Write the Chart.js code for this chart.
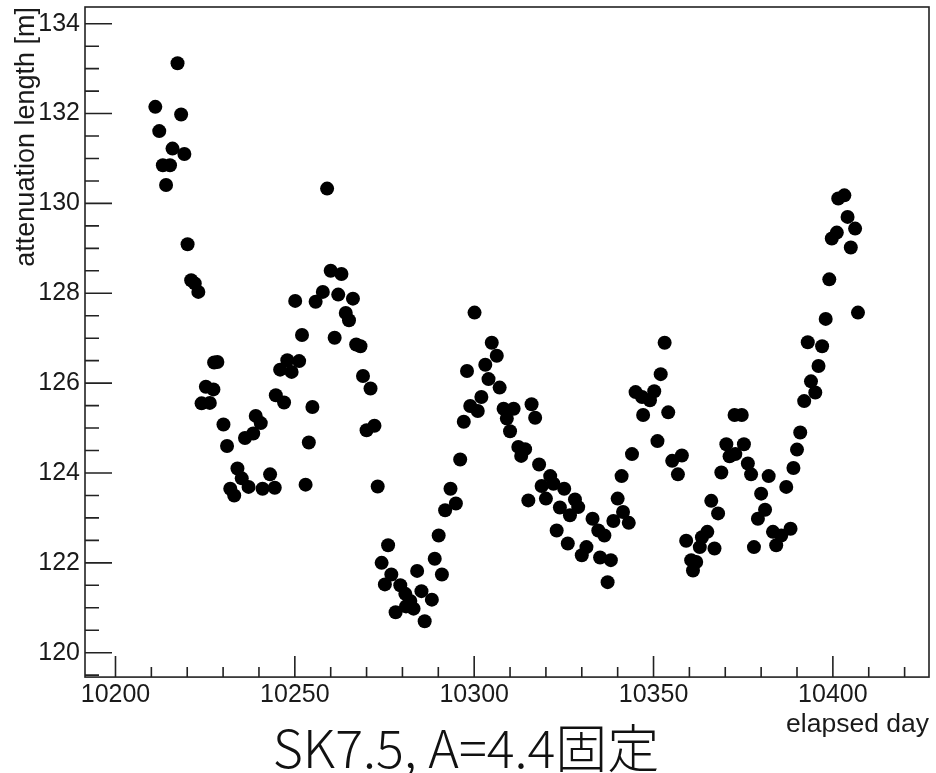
<!DOCTYPE html>
<html>
<head>
<meta charset="utf-8">
<script src="https://cdn.jsdelivr.net/npm/chart.js@4.4.1/dist/chart.umd.min.js"></script>
<style>
  html, body { margin: 0; padding: 0; background: #fff; }
  #wrap { width: 936px; height: 773px; }
</style>
</head>
<body>
<div id="wrap"><canvas id="attChart" width="936" height="773"></canvas></div>
<script>
"use strict";

// elapsed day of each measurement
const days = [
  10211.1, 10212.2, 10213.2, 10215.2, 10214.1, 10215.9, 10217.3, 10218.3, 10219.2, 10220.1,
  10221.1, 10222.1, 10223.1, 10224.0, 10225.2, 10226.3, 10227.3, 10227.5, 10228.4, 10230.1,
  10231.1, 10232.0, 10233.1, 10234.0, 10235.2, 10236.1, 10237.1, 10238.4, 10239.1, 10240.5,
  10241.0, 10243.1, 10244.4, 10244.7, 10245.9, 10247.0, 10247.9, 10249.1, 10250.1, 10251.2,
  10252.0, 10253.0, 10253.9, 10254.9, 10255.8, 10257.8, 10259.0, 10260.0, 10261.1, 10262.1,
  10263.0, 10264.2, 10265.1, 10266.2, 10267.1, 10268.3, 10269.0, 10270.0, 10271.1, 10272.2,
  10273.1, 10274.2, 10275.1, 10276.0, 10276.9, 10278.1, 10279.4, 10280.8, 10281.0, 10282.2,
  10283.1, 10284.1, 10285.3, 10286.2, 10288.2, 10289.0, 10290.1, 10291.0, 10291.9, 10293.4,
  10294.9, 10296.1, 10297.1, 10298.0, 10298.9, 10300.1, 10301.0, 10302.0, 10303.1, 10304.0,
  10304.9, 10306.3, 10307.1, 10308.2, 10309.1, 10310.0, 10311.0, 10312.3, 10313.1, 10314.2,
  10315.1, 10316.0, 10317.0, 10318.1, 10318.8, 10320.0, 10321.2, 10322.1, 10323.0, 10323.9,
  10325.1, 10326.1, 10326.7, 10328.1, 10329.0, 10330.0, 10331.3, 10333.0, 10334.6, 10335.1,
  10336.3, 10337.2, 10338.1, 10338.8, 10340.0, 10341.1, 10341.5, 10343.1, 10344.0, 10345.0,
  10346.8, 10347.1, 10349.0, 10350.2, 10351.1, 10352.0, 10353.1, 10354.1, 10355.2, 10356.8,
  10357.9, 10359.1, 10360.5, 10361.0, 10361.9, 10362.9, 10363.5, 10365.0, 10366.1, 10367.0,
  10368.0, 10368.9, 10370.3, 10371.2, 10372.8, 10372.6, 10374.6, 10375.2, 10376.3, 10377.2,
  10378.0, 10379.1, 10380.0, 10381.1, 10382.1, 10383.3, 10384.2, 10385.6, 10387.0, 10388.2,
  10389.0, 10390.0, 10390.9, 10392.0, 10393.0, 10393.9, 10395.1, 10396.0, 10397.0, 10398.0,
  10399.0, 10399.7, 10401.1, 10401.5, 10403.2, 10404.1, 10405.0, 10406.2, 10407.0
];

// attenuation length [m]
const attLength = [
  132.15, 131.61, 130.85, 130.85, 130.41, 131.22, 133.12, 131.98, 131.10, 129.09,
  128.29, 128.22, 128.03, 125.55, 125.92, 125.56, 125.86, 126.46, 126.47, 125.08,
  124.60, 123.65, 123.50, 124.10, 123.88, 124.78, 123.69, 124.88, 125.27, 125.11,
  123.65, 123.97, 123.67, 125.73, 126.30, 125.57, 126.51, 126.25, 127.83, 126.49,
  127.07, 123.74, 124.68, 125.47, 127.81, 128.03, 130.33, 128.50, 127.01, 127.97,
  128.43, 127.56, 127.40, 127.88, 126.86, 126.82, 126.16, 124.95, 125.88, 125.05,
  123.70, 122.00, 121.52, 122.39, 121.74, 120.90, 121.50, 121.31, 121.03, 121.15,
  120.98, 121.82, 121.37, 120.70, 121.18, 122.09, 122.61, 121.74, 123.17, 123.65,
  123.32, 124.30, 125.14, 126.27, 125.49, 127.57, 125.38, 125.69, 126.41, 126.09,
  126.90, 126.61, 125.90, 125.43, 125.21, 124.93, 125.43, 124.58, 124.38, 124.53,
  123.39, 125.53, 125.23, 124.19, 123.71, 123.43, 123.93, 123.76, 122.72, 123.23,
  123.65, 122.43, 123.06, 123.41, 123.24, 122.17, 122.35, 122.98, 122.72, 122.12,
  122.61, 121.57, 122.06, 122.93, 123.43, 123.93, 123.13, 122.89, 124.42, 125.80,
  125.69, 125.29, 125.62, 125.82, 124.71, 126.20, 126.90, 125.35, 124.27, 123.97,
  124.39, 122.49, 122.06, 121.83, 122.02, 122.35, 122.57, 122.69, 123.38, 122.32,
  123.10, 124.01, 124.64, 124.37, 124.42, 125.29, 125.29, 124.64, 124.21, 123.97,
  122.35, 122.98, 123.54, 123.18, 123.93, 122.69, 122.39, 122.61, 123.69, 122.76,
  124.11, 124.52, 124.90, 125.60, 126.91, 126.04, 125.79, 126.38, 126.82, 127.43,
  128.31, 129.22, 129.35, 130.11, 130.18, 129.70, 129.02, 129.44, 127.57
];

const xRange = [10191.5, 10426.8];
const yRange = [119.457, 134.372];
const xTickStep = 50, xMinorStep = 10;
const yTickStep = 2, yMinorStep = 0.5;

const chartTitle = 'SK7.5, A=4.4固定';
const xTitle = 'elapsed day';
const yTitle = 'attenuation length [m]';

const points = days.map((d, i) => ({ x: d, y: attLength[i] }));

// ROOT-style frame with inward ticks on the bottom and left axes
const rootFrame = {
  id: 'rootFrame',
  afterDatasetsDraw(chart) {
    const { ctx, chartArea: { left, right, top, bottom }, scales: { x, y } } = chart;
    ctx.save();
    ctx.strokeStyle = '#222';
    ctx.lineWidth = 1.6;
    ctx.strokeRect(left, top, right - left, bottom - top);

    ctx.beginPath();
    const x0 = Math.ceil(x.min / xMinorStep) * xMinorStep;
    for (let v = x0; v <= x.max; v += xMinorStep) {
      const px = x.getPixelForValue(v);
      const len = (v % xTickStep === 0) ? 21 : 10;
      ctx.moveTo(px, bottom);
      ctx.lineTo(px, bottom - len);
    }
    const n0 = Math.ceil(y.min / yMinorStep);
    for (let k = n0; k * yMinorStep <= y.max; k++) {
      const v = k * yMinorStep;
      const py = y.getPixelForValue(v);
      const len = (Math.abs(v / yTickStep - Math.round(v / yTickStep)) < 1e-6) ? 27 : 14;
      ctx.moveTo(left, py);
      ctx.lineTo(left + len, py);
    }
    ctx.stroke();
    ctx.restore();
  }
};

// the frame is fixed, so the label overhang padding is not wanted
function noPadding(scale) {
  scale.paddingTop = 0;
  scale.paddingBottom = 0;
  scale.paddingLeft = 0;
  scale.paddingRight = 0;
}

new Chart(document.getElementById('attChart'), {
  type: 'scatter',
  data: {
    datasets: [{
      data: points,
      backgroundColor: '#000',
      borderWidth: 0,
      pointRadius: 7,
      pointHoverRadius: 7
    }]
  },
  options: {
    responsive: false,
    animation: false,
    events: [],
    layout: { padding: { top: 7, right: 4, left: 0, bottom: 0 } },
    plugins: {
      legend: { display: false },
      tooltip: { enabled: false },
      title: {
        display: true,
        position: 'bottom',
        text: chartTitle,
        color: '#111',
        padding: 0,
        font: { family: '"Noto Sans CJK JP", "Noto Sans", sans-serif', size: 52, weight: 300, lineHeight: 0.96 }
      }
    },
    scales: {
      x: {
        type: 'linear',
        min: xRange[0],
        max: xRange[1],
        grid: { display: false, drawTicks: false },
        border: { display: false },
        ticks: {
          stepSize: xTickStep,
          includeBounds: false,
          padding: 3,
          color: '#1a1a1a',
          font: { family: '"Liberation Sans", Arial, sans-serif', size: 25 },
          callback: v => String(v)
        },
        title: {
          display: true,
          text: xTitle,
          align: 'end',
          color: '#1a1a1a',
          padding: { top: 0, bottom: -4 },
          font: { family: '"Liberation Sans", Arial, sans-serif', size: 26.5, lineHeight: 0.2 }
        },
        afterFit(scale) { scale.height = 46; noPadding(scale); }
      },
      y: {
        type: 'linear',
        min: yRange[0],
        max: yRange[1],
        grid: { display: false, drawTicks: false },
        border: { display: false },
        ticks: {
          stepSize: yTickStep,
          includeBounds: false,
          padding: 5,
          color: '#1a1a1a',
          font: { family: '"Liberation Sans", Arial, sans-serif', size: 25 },
          callback: v => String(v)
        },
        title: {
          display: true,
          text: yTitle,
          align: 'end',
          color: '#1a1a1a',
          padding: { top: 10, bottom: 0 },
          font: { family: '"Liberation Sans", Arial, sans-serif', size: 27, lineHeight: 1.2 }
        },
        afterFit(scale) { scale.width = 85; noPadding(scale); }
      }
    }
  },
  plugins: [rootFrame]
});
</script>
</body>
</html>
